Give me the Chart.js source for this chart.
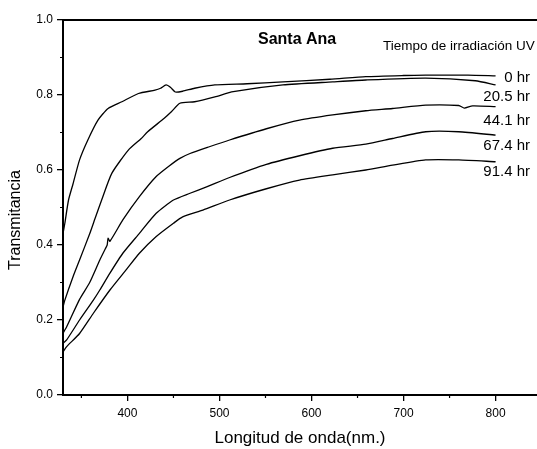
<!DOCTYPE html>
<html>
<head>
<meta charset="utf-8">
<script src="https://cdn.jsdelivr.net/npm/chart.js@4"></script>
<style>
  html, body { margin: 0; padding: 0; background: #fff; }
  #wrap { width: 537px; height: 449px; }
</style>
</head>
<body>
<div id="wrap"><canvas id="chart_trans"></canvas></div>
<script>
// series names (also used as the labels on the right)
var seriesNames = ["0 hr", "20.5 hr", "44.1 hr", "67.4 hr", "91.4 hr"]

// wavelength (nm) and transmittance, one pair per series
var wl0 = [330, 332, 336, 341, 348, 357, 368, 379, 394, 412, 430, 436, 442, 447, 452, 460, 473, 495, 530, 569, 620, 659, 700, 724, 770, 800]
var t0 = [0.43, 0.458, 0.52, 0.564, 0.627, 0.68, 0.733, 0.764, 0.782, 0.804, 0.813, 0.818, 0.827, 0.82, 0.808, 0.81, 0.818, 0.827, 0.83, 0.835, 0.842, 0.849, 0.852, 0.853, 0.853, 0.851]

var wl1 = [330, 332, 341, 348, 359, 365, 372, 383, 401, 415, 422, 440, 448, 457, 473, 495, 515, 569, 623, 659, 724, 778, 800]
var t1 = [0.235, 0.253, 0.316, 0.36, 0.43, 0.472, 0.52, 0.591, 0.653, 0.684, 0.702, 0.738, 0.756, 0.778, 0.782, 0.795, 0.809, 0.827, 0.835, 0.84, 0.845, 0.838, 0.827]

var wl2 = [330, 334, 348, 359, 370, 376, 378, 379, 381, 395, 413, 431, 445, 457, 468, 489, 511, 551, 587, 623, 659, 688, 724, 760, 766, 775, 800]
var t2 = [0.165, 0.182, 0.255, 0.3, 0.36, 0.39, 0.4, 0.418, 0.41, 0.467, 0.529, 0.582, 0.61, 0.631, 0.644, 0.662, 0.68, 0.71, 0.733, 0.747, 0.758, 0.764, 0.773, 0.772, 0.765, 0.771, 0.769]

var wl3 = [330, 334, 348, 363, 370, 381, 395, 413, 431, 450, 468, 486, 511, 551, 587, 623, 659, 688, 724, 760, 800]
var t3 = [0.138, 0.147, 0.2, 0.253, 0.28, 0.325, 0.378, 0.431, 0.484, 0.52, 0.538, 0.555, 0.58, 0.615, 0.638, 0.658, 0.669, 0.684, 0.702, 0.702, 0.693]

var wl4 = [330, 334, 348, 363, 381, 399, 413, 431, 450, 460, 482, 511, 551, 587, 623, 659, 688, 724, 760, 800]
var t4 = [0.115, 0.129, 0.164, 0.218, 0.28, 0.335, 0.378, 0.422, 0.458, 0.475, 0.493, 0.52, 0.55, 0.573, 0.587, 0.6, 0.613, 0.627, 0.627, 0.622]

// axis ticks
var xTicks = [400, 500, 600, 700, 800]
var xMinor = [350, 450, 550, 650, 750]
var yTicks = [0.0, 0.2, 0.4, 0.6, 0.8, 1.0]
var yMinor = [0.1, 0.3, 0.5, 0.7, 0.9]

var wls = [wl0, wl1, wl2, wl3, wl4]
var ts = [t0, t1, t2, t3, t4]
var font = '"Liberation Sans", Arial, sans-serif'

//make the datasets from the arrays
var datasets = seriesNames.map(function (name, i) {
    return {
        label: name,
        data: wls[i].map(function (x, j) { return { x: x, y: ts[i][j] } }),
        borderColor: '#000',
        borderWidth: 1.3,
        pointRadius: 0,
        tension: 0.2,
        fill: false
    }
})

//top frame line, minor ticks, y title and the texts inside the plot
var extras = {
    id: 'extras',
    afterDraw: function (chart) {
        var ctx = chart.ctx
        var a = chart.chartArea
        var x = chart.scales.x
        var y = chart.scales.y
        ctx.save()
        ctx.strokeStyle = '#000'
        ctx.lineWidth = 2
        ctx.beginPath()
        ctx.moveTo(a.left, a.top)
        ctx.lineTo(a.right, a.top)
        ctx.stroke()

        ctx.lineWidth = 1.2
        ctx.beginPath()
        xMinor.forEach(function (v) {
            var px = x.getPixelForValue(v)
            ctx.moveTo(px, a.bottom)
            ctx.lineTo(px, a.bottom + 3)
        })
        yMinor.forEach(function (v) {
            var py = y.getPixelForValue(v)
            ctx.moveTo(a.left, py)
            ctx.lineTo(a.left - 3, py)
        })
        ctx.stroke()

        ctx.fillStyle = '#000'
        ctx.textBaseline = 'middle'
        ctx.textAlign = 'center'

        // y axis title sits a bit below the middle in the original
        ctx.save()
        ctx.translate(16, 220)
        ctx.rotate(-Math.PI / 2)
        ctx.font = '16px ' + font
        ctx.fillText('Transmitancia', 0, 0)
        ctx.restore()

        ctx.textAlign = 'left'
        ctx.font = 'bold 16px ' + font
        ctx.fillText('Santa Ana', 258, 40)
        ctx.font = '13.5px ' + font
        ctx.fillText('Tiempo de irradiación UV', 383, 46)

        ctx.textAlign = 'right'
        ctx.font = '15px ' + font
        var labelY = [78, 97, 121, 146, 172]
        seriesNames.forEach(function (s, i) {
            ctx.fillText(s, 530, labelY[i])
        })
        ctx.restore()
    }
}

var ctx = document.getElementById('chart_trans').getContext('2d')
var myChart = new Chart(ctx, {
    type: 'line',
    data: { datasets: datasets },
    plugins: [extras],
    options: {
        responsive: true,
        maintainAspectRatio: false,
        animation: false,
        layout: { padding: { top: 20, right: 0, left: 0, bottom: 0 } },
        plugins: {
            legend: { display: false },
            tooltip: { enabled: false }
        },
        scales: {
            x: {
                type: 'linear',
                min: 330,
                max: 845,
                afterBuildTicks: function (scale) {
                    scale.ticks = xTicks.map(function (v) { return { value: v } })
                },
                afterFit: function (scale) { scale.height = 54 },
                ticks: {
                    color: '#000',
                    padding: 5,
                    maxRotation: 0,
                    font: { family: font, size: 12 },
                    callback: function (v) { return v }
                },
                grid: { drawOnChartArea: false, color: '#000', tickLength: 6, lineWidth: 1.3 },
                border: { color: '#000', width: 2 },
                title: {
                    display: true,
                    text: 'Longitud de onda(nm.)',
                    color: '#000',
                    font: { family: font, size: 17 },
                    padding: { top: 0, bottom: 0 }
                }
            },
            y: {
                min: 0,
                max: 1,
                afterBuildTicks: function (scale) {
                    scale.ticks = yTicks.map(function (v) { return { value: v } })
                },
                afterFit: function (scale) { scale.width = 63 },
                ticks: {
                    color: '#000',
                    padding: 4,
                    font: { family: font, size: 12 },
                    callback: function (v) { return v.toFixed(1) }
                },
                grid: { drawOnChartArea: false, color: '#000', tickLength: 6, lineWidth: 1.3 },
                border: { color: '#000', width: 2 }
            }
        }
    }
})
</script>
</body>
</html>
